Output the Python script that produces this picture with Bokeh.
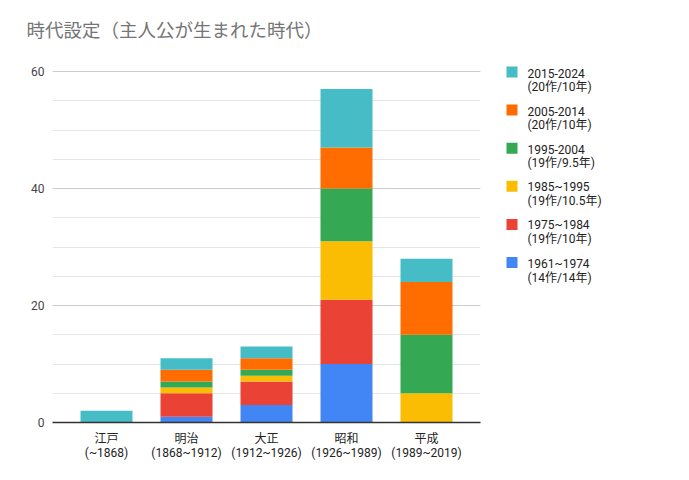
from bokeh.plotting import figure
from bokeh.layouts import column, row
from bokeh.models import Range1d, FactorRange, SingleIntervalTicker, ColumnDataSource
from bokeh.core.properties import value
from bokeh.embed import file_html
from bokeh.resources import INLINE

FONT = "Roboto, Noto Sans CJK JP"

title_text = "時代設定（主人公が生まれた時代）"
categories = ["江戸\n(~1868)", "明治\n(1868~1912)", "大正\n(1912~1926)", "昭和\n(1926~1989)", "平成\n(1989~2019)"]
series_keys = ["s1961", "s1975", "s1985", "s1995", "s2005", "s2015"]
series_line1 = ["1961~1974", "1975~1984", "1985~1995", "1995-2004", "2005-2014", "2015-2024"]
series_line2 = [" (14作/14年)", " (19作/10年)", " (19作/10.5年)", " (19作/9.5年)", " (20作/10年)", "(20作/10年)"]
colors = ["#4285F4", "#EA4335", "#FBBC04", "#34A853", "#FF6D01", "#46BDC6"]

s1961 = [0, 1, 3, 10, 0]
s1975 = [0, 4, 4, 11, 0]
s1985 = [0, 1, 1, 10, 5]
s1995 = [0, 1, 1, 9, 10]
s2005 = [0, 2, 2, 7, 9]
s2015 = [2, 2, 2, 10, 4]

data = dict(cat=categories, s1961=s1961, s1975=s1975, s1985=s1985,
            s1995=s1995, s2005=s2005, s2015=s2015)
src = ColumnDataSource(data)

# Title strip
tf = figure(width=689, height=50, x_range=Range1d(0, 689), y_range=Range1d(50, 0),
            toolbar_location=None, output_backend="svg", min_border=0, title=None,
            x_axis_location=None, y_axis_location=None)
tf.grid.visible = False
tf.outline_line_color = None
tf.text(x=[26], y=[30], text=[title_text], text_font=value(FONT), text_font_size="18.5px",
        text_color="#757575", text_baseline="middle", text_align="left")

# Main chart (frame from page y 50 to 422; value 60 sits at page y 71)
p = figure(width=490, height=430, x_range=FactorRange(*categories, range_padding=0.07),
           y_range=Range1d(0, 63.59), toolbar_location=None, output_backend="svg",
           min_border_left=52, min_border_right=10, min_border_top=0, min_border_bottom=58,
           title=None)
p.outline_line_color = None
p.vbar_stack(series_keys, x="cat", width=0.65, color=colors, source=src, line_color=None)

p.yaxis.ticker = SingleIntervalTicker(interval=20, num_minor_ticks=4)
p.ygrid.grid_line_color = "#cccccc"
p.ygrid.minor_grid_line_color = "#e6e6e6"
p.xgrid.grid_line_color = None
p.yaxis.axis_line_color = None
p.yaxis.major_tick_line_color = None
p.yaxis.minor_tick_line_color = None
p.yaxis.major_tick_out = 0
p.yaxis.minor_tick_out = 0
p.yaxis.major_label_text_font = FONT
p.yaxis.major_label_text_font_size = "12px"
p.yaxis.major_label_text_color = "#444444"
p.yaxis.major_label_standoff = 8
p.xaxis.axis_line_color = "#333333"
p.xaxis.axis_line_width = 1.5
p.xaxis.major_tick_line_color = None
p.xaxis.minor_tick_line_color = None
p.xaxis.major_label_text_font = FONT
p.xaxis.major_label_text_font_size = "12px"
p.xaxis.major_label_text_color = "#222222"
p.xaxis.major_label_standoff = 3
p.xaxis.major_label_text_line_height = 1.05

# Legend strip (y in page pixels: frame spans page y 50..422)
lf = figure(width=199, height=430, x_range=Range1d(0, 199), y_range=Range1d(422, 50),
            toolbar_location=None, output_backend="svg", min_border=0,
            min_border_bottom=58, title=None,
            x_axis_location=None, y_axis_location=None)
lf.grid.visible = False
lf.outline_line_color = None
order = list(range(len(series_keys)))[::-1]
ys = [71.5 + 38.1 * i for i in range(len(order))]
lf.rect(x=[21.5] * len(order), y=ys, width=11, height=11,
        color=[colors[k] for k in order], line_color=None)
lf.text(x=[37] * len(order), y=[y + 1 for y in ys], text=[series_line1[k] for k in order],
        text_font=value(FONT), text_font_size="12px", text_color="#222222",
        text_baseline="alphabetic")
lf.text(x=[37] * len(order), y=[y + 15 for y in ys], text=[series_line2[k] for k in order],
        text_font=value(FONT), text_font_size="12px", text_color="#222222",
        text_baseline="alphabetic")

layout = column(tf, row(p, lf))
open("out.html", "w").write(file_html(layout, INLINE))
